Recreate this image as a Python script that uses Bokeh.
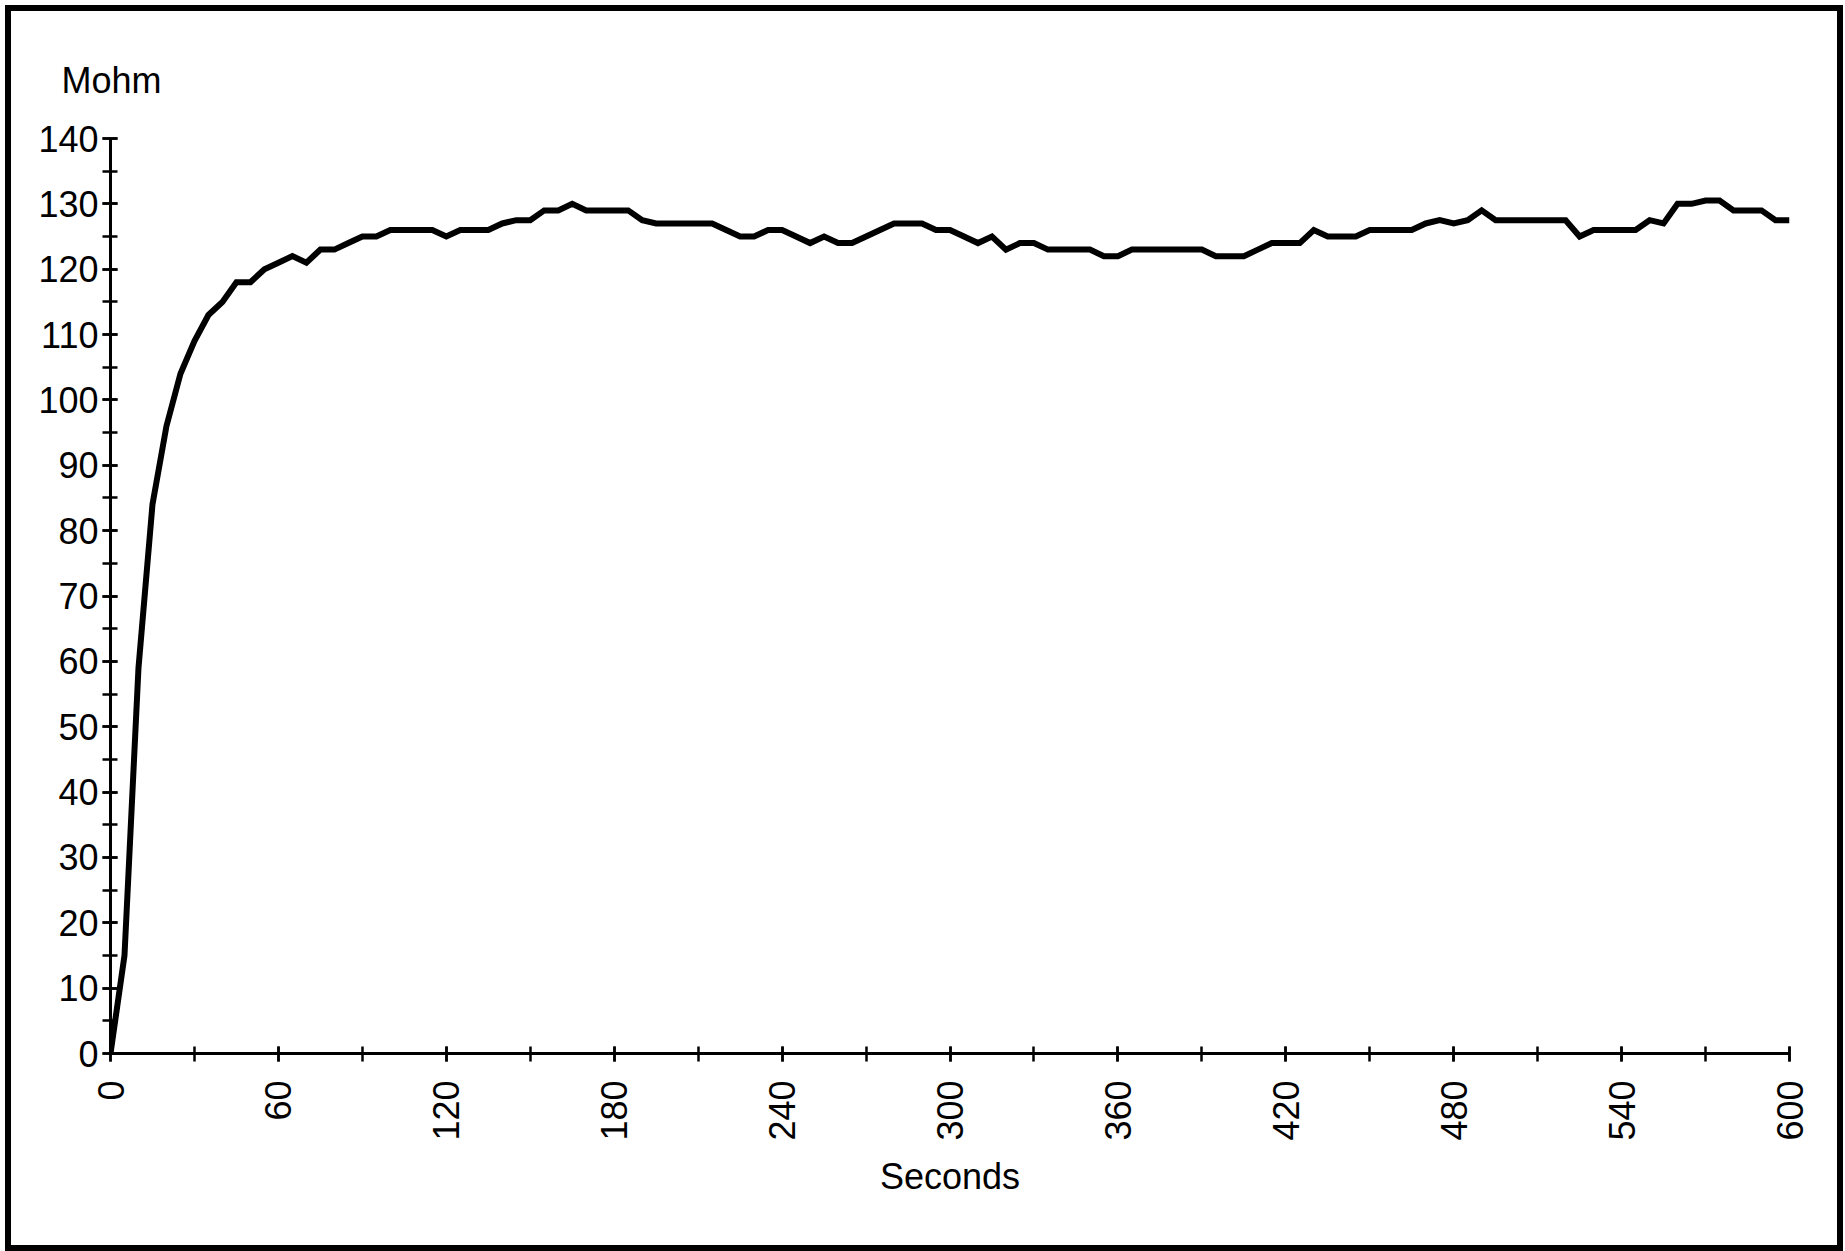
import math
from bokeh.plotting import figure
from bokeh.models import Range1d, SingleIntervalTicker
from bokeh.embed import file_html
from bokeh.resources import INLINE

seconds = [
    0, 5, 10, 15, 20, 25, 30, 35, 40, 45,
    50, 55, 60, 65, 70, 75, 80, 85, 90, 95,
    100, 105, 110, 115, 120, 125, 130, 135, 140, 145,
    150, 155, 160, 165, 170, 175, 180, 185, 190, 195,
    200, 205, 210, 215, 220, 225, 230, 235, 240, 245,
    250, 255, 260, 265, 270, 275, 280, 285, 290, 295,
    300, 305, 310, 315, 320, 325, 330, 335, 340, 345,
    350, 355, 360, 365, 370, 375, 380, 385, 390, 395,
    400, 405, 410, 415, 420, 425, 430, 435, 440, 445,
    450, 455, 460, 465, 470, 475, 480, 485, 490, 495,
    500, 505, 510, 515, 520, 525, 530, 535, 540, 545,
    550, 555, 560, 565, 570, 575, 580, 585, 590, 595,
    600,
]
mohm = [
    0, 15, 59, 84, 96, 104, 109, 113, 115, 118,
    118, 120, 121, 122, 121, 123, 123, 124, 125, 125,
    126, 126, 126, 126, 125, 126, 126, 126, 127, 127.5,
    127.5, 129, 129, 130, 129, 129, 129, 129, 127.5, 127,
    127, 127, 127, 127, 126, 125, 125, 126, 126, 125,
    124, 125, 124, 124, 125, 126, 127, 127, 127, 126,
    126, 125, 124, 125, 123, 124, 124, 123, 123, 123,
    123, 122, 122, 123, 123, 123, 123, 123, 123, 122,
    122, 122, 123, 124, 124, 124, 126, 125, 125, 125,
    126, 126, 126, 126, 127, 127.5, 127, 127.5, 129, 127.5,
    127.5, 127.5, 127.5, 127.5, 127.5, 125, 126, 126, 126, 126,
    127.5, 127, 130, 130, 130.5, 130.5, 129, 129, 129, 127.5,
    127.5,
]

x_label = "Seconds"
y_label = "Mohm"
FONT = "Liberation Sans"
FS = "36px"

p = figure(width=1838, height=1246, output_backend="svg", toolbar_location=None,
           x_range=Range1d(0, 600), y_range=Range1d(0, 140),
           min_border_left=99, min_border_right=60,
           min_border_top=127, min_border_bottom=204)
p.styles = {"border": "6px solid black", "position": "absolute",
            "left": "5px", "top": "5px"}
p.outline_line_color = None
p.grid.visible = False
p.background_fill_color = "white"
p.border_fill_color = "white"

p.title.text = y_label
p.title.align = "left"
p.title.offset = -49
p.title.standoff = 76
p.title.text_font = FONT
p.title.text_font_size = FS
p.title.text_font_style = "normal"
p.title.text_color = "black"

p.line(seconds, mohm, line_width=6, line_color="black", line_join="miter")

p.xaxis.ticker = SingleIntervalTicker(interval=60, num_minor_ticks=2)
p.yaxis.ticker = SingleIntervalTicker(interval=10, num_minor_ticks=2)
for ax in (p.xaxis[0], p.yaxis[0]):
    ax.axis_line_width = 3
    ax.axis_line_color = "black"
    ax.major_tick_line_width = 2.5
    ax.minor_tick_line_width = 2.5
    ax.major_tick_line_color = "black"
    ax.minor_tick_line_color = "black"
    ax.major_tick_in = 7
    ax.major_tick_out = 8
    ax.minor_tick_in = 7
    ax.minor_tick_out = 8
    ax.major_label_text_font = FONT
    ax.major_label_text_font_size = FS
    ax.major_label_text_color = "black"
    ax.axis_label_text_font = FONT
    ax.axis_label_text_font_size = FS
    ax.axis_label_text_font_style = "normal"
    ax.axis_label_text_color = "black"

p.yaxis.major_label_standoff = 4
p.xaxis.major_label_standoff = 19
p.xaxis.major_label_orientation = math.pi / 2
p.xaxis.axis_label = x_label
p.xaxis.axis_label_standoff = 12

open("out.html", "w").write(file_html(p, INLINE))
